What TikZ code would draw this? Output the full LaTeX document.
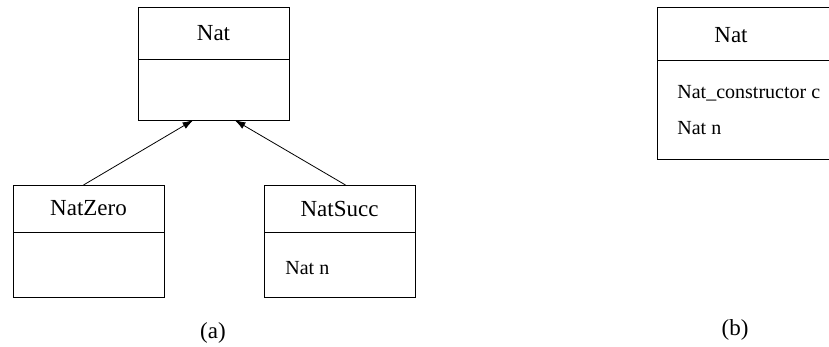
\documentclass[tikz,border=0pt]{standalone}
\usepackage{fontspec}
\setmainfont{Liberation Serif}
\usetikzlibrary{arrows.meta,calc,positioning}

\begin{document}
\begin{tikzpicture}[x=0.5pt,y=-0.5pt,
		classhead/.style={draw,rectangle,inner sep=0pt,outer sep=0pt,minimum width=75.5pt,font=\fontsize{11.5}{13}\selectfont},
		classbody/.style={draw,rectangle,inner sep=0pt,outer sep=0pt,minimum width=75.5pt},
		member/.style={anchor=west,inner sep=0pt,font=\fontsize{10}{12}\selectfont},
		caption/.style={font=\fontsize{11.5}{13}\selectfont},
		inherit/.style={-{Latex[length=5.5pt,width=3.6pt]}}]
		\useasboundingbox (0,0) rectangle (829,347);
		%% (a)
		\node[classhead,minimum height=26pt,anchor=north west] (nat) at (138,7) {Nat};
		\node[classbody,minimum height=30.5pt,below=0pt of nat] (nat-body) {};
		\node[classhead,minimum height=23.5pt,anchor=north west] (natzero) at (13,185) {NatZero};
		\node[classbody,minimum height=32.5pt,below=0pt of natzero] (natzero-body) {};
		\node[classhead,minimum height=23.5pt,anchor=north west] (natsucc) at (264,185) {NatSucc};
		\node[classbody,minimum height=32.5pt,below=0pt of natsucc] (natsucc-body) {};
		\node[member] (natsucc-n) at ($(natsucc-body.north west)+(21,36)$) {Nat n};
		%%
		\draw[inherit] ($(natzero.north)+(-5,0)$)--($(nat-body.south)+(-20,0)$);
		\draw[inherit] ($(natsucc.north)+(6,0)$)--($(nat-body.south)+(21,0)$);
		\node[caption] (cap-a) at (213,333) {(a)};
		%% (b)
		\node[classhead,minimum width=111.5pt,minimum height=26.5pt,anchor=north west] (natb) at (657,7) {};
		\node[classbody,minimum width=111.5pt,minimum height=49.5pt,below=0pt of natb] (natb-body) {};
		\node[caption] (natb-title) at (731,35) {Nat};
		\node[member] (natb-c) at ($(natb-body.north west)+(20,33)$) {Nat\_constructor c};
		\node[member] (natb-n) at ($(natb-body.north west)+(20,68)$) {Nat n};
		\node[caption] (cap-b) at (735,330) {(b)};
	\end{tikzpicture}
\end{document}
